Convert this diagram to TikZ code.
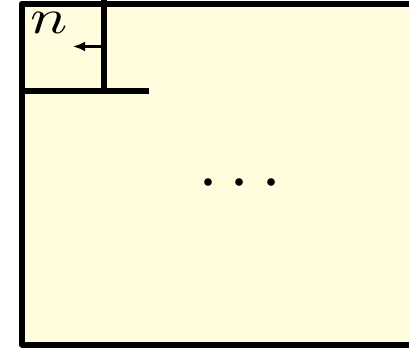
\documentclass[tikz,border=0pt]{standalone}
\usepackage{xcolor}
\usetikzlibrary{arrows.meta}
\definecolor{cellfill}{RGB}{255,253,222}
\tikzset{wall/.style={line width=6pt, line join=round},
  push/.style={line width=2.7pt, -{Latex[length=12pt,width=10pt]}}}

\begin{document}
\begin{tikzpicture}[x=1pt,y=-1pt]
\useasboundingbox (0,0) rectangle (409,351);
\clip (0,0) rectangle (409,351);
% outer area
\draw[wall, fill=cellfill] (22,3.5) rectangle (440,344.5);
% corner cell
\draw[wall] (103.5,0) -- (103.5,91);
\draw[wall] (22,91) -- (149,91);
% label and arrow
\node[anchor=base, inner sep=0pt] (lbl) at (49.5,33) {\scalebox{6.2}[4.9]{$n$}};
\coordinate (wallpt) at (101,46.5);
\coordinate (tip) at (73,46.5);
\draw[push] (wallpt) -- (tip);
% rest
\node[anchor=base, inner sep=0pt] (dots) at (240,200) {\scalebox{7.2}{$\cdots$}};
\end{tikzpicture}
\end{document}
